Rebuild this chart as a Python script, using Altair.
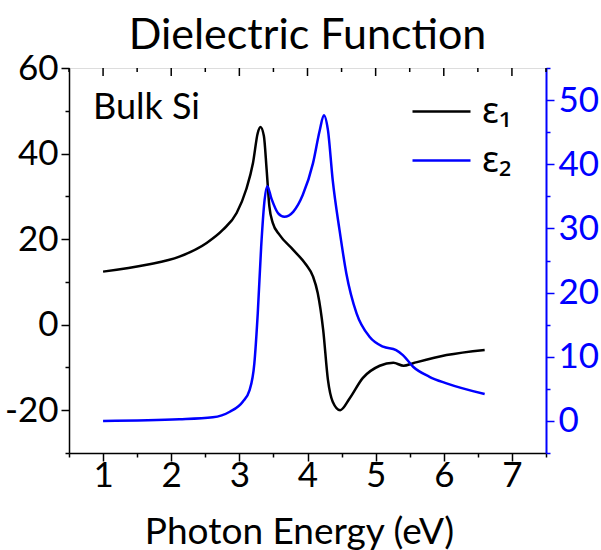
import altair as alt
import pandas as pd

# ---- data ----
energy_e1 = [1.0, 1.64, 2.12, 2.52, 2.76, 2.96, 3.10, 3.20, 3.27, 3.31, 3.36, 3.40, 3.44, 3.49,
             3.59, 3.79, 3.98, 4.08, 4.15, 4.23, 4.30, 4.37, 4.48, 4.62, 4.81, 5.06, 5.26, 5.41,
             5.55, 6.04, 6.60]
eps1 = [12.4, 14.0, 15.9, 19.1, 22.2, 26.1, 31.6, 37.8, 44.8, 46.2, 44.1, 36.3, 27.7, 23.8,
        21.0, 17.5, 14.0, 11.3, 7.4, -1.2, -12.9, -18.0, -20.0, -17.2, -12.5, -9.6, -8.9, -9.6,
        -9.0, -7.1, -5.9]

energy_e2 = [1.0, 2.12, 2.61, 2.86, 3.05, 3.15, 3.22, 3.27, 3.32, 3.37, 3.41, 3.47, 3.57, 3.66,
             3.79, 3.93, 4.08, 4.18, 4.24, 4.30, 4.37, 4.47, 4.57, 4.72, 4.91, 5.11, 5.30, 5.40,
             5.55, 5.79, 6.04, 6.60]
eps2 = [0.0, 0.25, 0.56, 1.43, 2.99, 4.81, 8.97, 16.76, 27.13, 34.41, 36.59, 34.67, 32.34, 31.81,
        32.59, 35.20, 40.14, 45.31, 47.65, 45.31, 37.52, 29.74, 22.99, 16.76, 13.12, 11.56, 11.04,
        10.26, 8.44, 6.88, 5.86, 4.19]

series_names = ["ε₁", "ε₂"]
series_colors = ["black", "blue"]

x_ticks = [0.5 + 0.5 * i for i in range(15)]      # 0.5 ... 7.5
left_ticks = [-30, -20, -10, 0, 10, 20, 30, 40, 50, 60]
right_ticks = [-5, 0, 5, 10, 15, 20, 25, 30, 35, 40, 45, 50, 55]

df1 = pd.DataFrame({"E": energy_e1, "v": eps1, "series": series_names[0]})
df2 = pd.DataFrame({"E": energy_e2, "v": eps2, "series": series_names[1]})
df_ticks = pd.DataFrame({"E": x_ticks})

FONT = "Lato"

color = alt.Color(
    "series:N",
    scale=alt.Scale(domain=series_names, range=series_colors),
    legend=alt.Legend(
        orient="none", legendX=342, legendY=13, title=None,
        symbolType="stroke", symbolSize=3364, symbolStrokeWidth=2.5,
        labelFontSize=36, labelFont="Noto Sans", labelOffset=10,
        rowPadding=-5, padding=0,
    ),
)

x_axis = alt.Axis(
    values=x_ticks,
    labelExpr="datum.value % 1 === 0 ? '' + datum.value : ''",
    tickSize={"condition": {"test": "datum.value % 1 === 0", "value": 8}, "value": 4},
    labelFont=FONT, labelFontSize=35, labelColor="black", labelPadding=-3,
    domainColor="black", tickColor="black", domainWidth=1.5, tickWidth=1.5,
    title="Photon Energy (eV)", titleFont=FONT, titleFontSize=37,
    titleFontWeight="normal", titleColor="black", titleBaseline="alphabetic",
    titleY=90, titleX=230, grid=False,
)
x_enc = alt.X("E:Q", scale=alt.Scale(domain=[0.5, 7.5], nice=False, zero=False), axis=x_axis)

black = alt.Chart(df1).mark_line(strokeWidth=2.5, interpolate="monotone").encode(
    x=x_enc,
    y=alt.Y("v:Q", scale=alt.Scale(domain=[-30, 60], nice=False, zero=False),
            axis=alt.Axis(
                orient="left", values=left_ticks,
                labelExpr="datum.value % 20 === 0 ? '' + datum.value : ''",
                tickSize={"condition": {"test": "datum.value % 20 === 0", "value": 8}, "value": 4},
                labelFont=FONT, labelFontSize=35, labelColor="black", labelPadding=3,
                domainColor="black", tickColor="black", domainWidth=1.5, tickWidth=1.5,
                title=None, grid=False)),
    color=color,
)

blue = alt.Chart(df2).mark_line(strokeWidth=2.5, interpolate="monotone").encode(
    x=x_enc,
    y=alt.Y("v:Q", scale=alt.Scale(domain=[-5, 55], nice=False, zero=False),
            axis=alt.Axis(
                orient="right", values=right_ticks,
                labelExpr="datum.value % 10 === 0 && datum.value >= 0 ? '' + datum.value : ''",
                tickSize={"condition": {"test": "datum.value % 10 === 0", "value": 8}, "value": 4},
                labelFont=FONT, labelFontSize=35, labelColor="blue", labelPadding=4,
                domainColor="blue", tickColor="blue", domainWidth=2, tickWidth=1.5,
                title=None, grid=False)),
    color=color,
)

top_major = alt.Chart(df_ticks).transform_filter("datum.E % 1 === 0").mark_rule(
    color="black", strokeWidth=1.5).encode(x=x_enc, y=alt.value(0), y2=alt.value(8))
top_minor = alt.Chart(df_ticks).transform_filter("datum.E % 1 !== 0").mark_rule(
    color="black", strokeWidth=1.5).encode(x=x_enc, y=alt.value(0), y2=alt.value(4))

label = alt.Chart(alt.Data(values=[{"t": "Bulk Si"}])).mark_text(
    align="left", baseline="alphabetic", font=FONT, fontSize=36, color="black"
).encode(x=alt.value(24), y=alt.value(51), text="t:N")

chart = alt.layer(black, blue, top_major, top_minor, label).resolve_scale(
    y="independent"
).properties(
    width=477, height=385,
    title=alt.TitleParams("Dielectric Function", font=FONT, fontSize=43,
                          fontWeight="normal", color="black", anchor="middle",
                          frame="group", baseline="alphabetic", offset=4, dy=45),
    autosize=alt.AutoSizeParams(type="none"),
    padding={"left": 69, "top": 68, "right": 55, "bottom": 97},
).configure_view(stroke="black", strokeWidth=1.5).configure(background="white")

chart.save("out.html", embed_options={"renderer": "svg", "actions": False})
